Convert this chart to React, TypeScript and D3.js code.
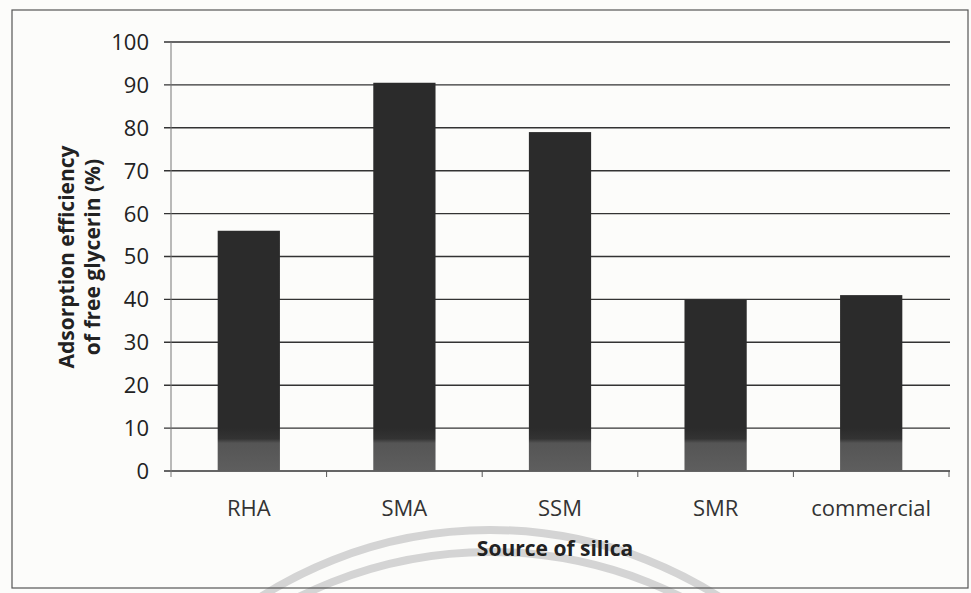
import React from "react";
import * as d3 from "d3";

const categories = ["RHA", "SMA", "SSM", "SMR", "commercial"];
const values = [56, 90.5, 79, 40, 41];
const yTicks = [0, 10, 20, 30, 40, 50, 60, 70, 80, 90, 100];

const W = 971;
const H = 593;
const FONT = "'Open Sans', 'Liberation Sans', sans-serif";

export default function App() {
  const x = d3.scaleBand<string>().domain(categories).range([171, 949]).paddingInner(0.6).paddingOuter(0.3);
  const xb = d3.scaleBand<string>().domain(categories).range([171, 949]);
  const y = d3.scaleLinear().domain([0, 100]).range([471, 42]);

  return (
    <svg width={W} height={H} style={{ position: "absolute", left: 0, top: 0, background: "#fdfdfb" }}>
      <defs>
        <linearGradient id="barGrad" gradientUnits="userSpaceOnUse" x1="0" y1={y(10)} x2="0" y2={y(0)}>
          <stop offset="0" stopColor="#2b2b2b" />
          <stop offset="0.25" stopColor="#333" />
          <stop offset="0.35" stopColor="#555" />
          <stop offset="1" stopColor="#5e5e5e" />
        </linearGradient>
      </defs>
      <rect x={0} y={0} width={W} height={H} fill="#fcfcfa" />
      {/* watermark arcs */}
      <circle cx={490} cy={956} r={426} fill="none" stroke="#d4d4d4" strokeWidth={8} />
      <circle cx={490} cy={981} r={429} fill="none" stroke="#d4d4d4" strokeWidth={8} />
      {/* outer frame */}
      <rect x={12} y={10} width={956} height={578} fill="none" stroke="#555" strokeWidth={1.2} />
      {/* gridlines */}
      {yTicks.map((t) => (
        <line key={t} x1={164} x2={950} y1={y(t)} y2={y(t)} stroke="#333" strokeWidth={1.4} />
      ))}
      {/* y axis line */}
      <line x1={171} x2={171} y1={y(100)} y2={y(0) + 6} stroke="#777" strokeWidth={1} />
      {/* x ticks */}
      {categories.map((c) => (
        <line key={"t" + c} x1={(xb(c) as number) + xb.bandwidth()} x2={(xb(c) as number) + xb.bandwidth()} y1={y(0)} y2={y(0) + 6} stroke="#555" strokeWidth={1} />
      ))}
      {/* bars */}
      {categories.map((c, i) => (
        <rect key={c} x={x(c)} y={y(values[i])} width={x.bandwidth()} height={y(0) - y(values[i])} fill="url(#barGrad)" />
      ))}
      {/* y tick labels */}
      {yTicks.map((t) => (
        <text key={"l" + t} x={149} y={y(t)} dy="0.36em" textAnchor="end" fontFamily={FONT} fontSize={22} fill="#222">
          {t}
        </text>
      ))}
      {/* x labels */}
      {categories.map((c) => (
        <text key={"x" + c} x={(xb(c) as number) + xb.bandwidth() / 2} y={516} textAnchor="middle" fontFamily={FONT} fontSize={22} fill="#333">
          {c}
        </text>
      ))}
      {/* axis titles */}
      <text x={555} y={556} textAnchor="middle" fontFamily={FONT} fontSize={21} fontWeight="bold" fill="#222">
        Source of silica
      </text>
      <g transform="translate(74,257) rotate(-90)">
        <text x={0} y={0} textAnchor="middle" fontFamily={FONT} fontSize={21} fontWeight="bold" fill="#222">
          Adsorption efficiency
        </text>
        <text x={0} y={26} textAnchor="middle" fontFamily={FONT} fontSize={21} fontWeight="bold" fill="#222">
          of free glycerin (%)
        </text>
      </g>
    </svg>
  );
}
